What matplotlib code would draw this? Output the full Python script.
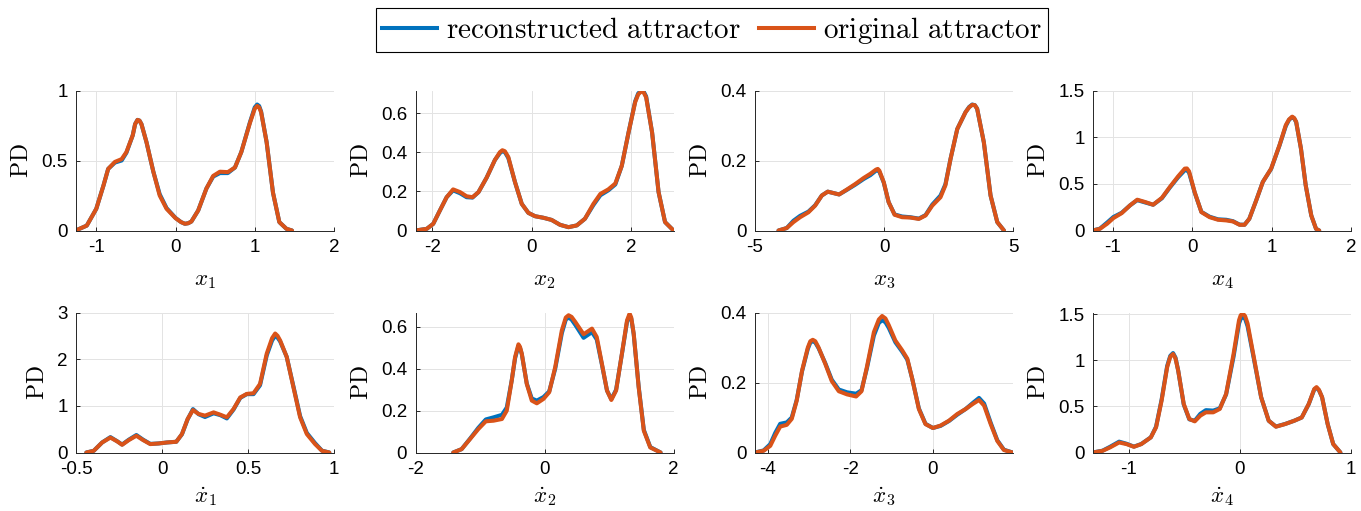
import matplotlib
matplotlib.use('Agg')
import matplotlib.pyplot as plt
from matplotlib.ticker import FuncFormatter
from matplotlib.lines import Line2D

plt.rcParams['font.family'] = ['Liberation Sans', 'DejaVu Sans']
plt.rcParams['mathtext.fontset'] = 'cm'
plt.rcParams['axes.unicode_minus'] = False

BLUE = '#0072BD'
ORANGE = '#D95319'

# --- probability densities of each state variable ---
x1_grid = [-1.26, -1.12, -1.0, -0.91, -0.85, -0.765, -0.68, -0.62, -0.54, -0.51, -0.48, -0.455, -0.43, -0.366,
           -0.28, -0.2, -0.113, 0.0, 0.07, 0.118, 0.16, 0.2, 0.286, 0.39, 0.475, 0.56, 0.66, 0.75, 0.83, 0.94,
           1.0, 1.03, 1.055, 1.08, 1.15, 1.23, 1.31, 1.40, 1.47]
x1_orig = [0.0, 0.035, 0.155, 0.32, 0.44, 0.49, 0.51, 0.56, 0.68, 0.76, 0.79, 0.785, 0.76, 0.63, 0.42, 0.25,
           0.155, 0.088, 0.06, 0.048, 0.052, 0.064, 0.143, 0.30, 0.39, 0.42, 0.417, 0.45, 0.56, 0.77, 0.87, 0.89,
           0.88, 0.845, 0.63, 0.27, 0.06, 0.012, 0.0]
x1_recon = [0.0, 0.035, 0.155, 0.32, 0.44, 0.485, 0.50, 0.555, 0.68, 0.76, 0.79, 0.785, 0.76, 0.63, 0.42, 0.26,
            0.16, 0.09, 0.06, 0.048, 0.052, 0.064, 0.143, 0.30, 0.385, 0.41, 0.41, 0.45, 0.56, 0.775, 0.88, 0.90,
            0.89, 0.85, 0.63, 0.27, 0.06, 0.012, 0.0]

x2_grid = [-2.336, -2.11, -1.98, -1.85, -1.71, -1.58, -1.44, -1.31, -1.19, -1.07, -0.906, -0.74, -0.64, -0.59,
           -0.54, -0.47, -0.336, -0.20, -0.067, 0.067, 0.235, 0.40, 0.57, 0.74, 0.906, 1.07, 1.24, 1.38, 1.54,
           1.68, 1.81, 1.946, 2.08, 2.14, 2.2, 2.25, 2.30, 2.42, 2.55, 2.68, 2.85]
x2_orig = [0.0, 0.0085, 0.034, 0.10, 0.17, 0.21, 0.196, 0.175, 0.17, 0.196, 0.27, 0.36, 0.40, 0.41, 0.405, 0.375,
           0.247, 0.136, 0.09, 0.073, 0.065, 0.054, 0.029, 0.017, 0.026, 0.06, 0.136, 0.187, 0.21, 0.24, 0.33,
           0.50, 0.656, 0.695, 0.71, 0.705, 0.68, 0.50, 0.196, 0.043, 0.0]
x2_recon = [0.0, 0.0085, 0.034, 0.10, 0.17, 0.205, 0.19, 0.17, 0.168, 0.196, 0.27, 0.36, 0.395, 0.405, 0.40,
            0.37, 0.247, 0.136, 0.09, 0.073, 0.065, 0.054, 0.029, 0.017, 0.026, 0.06, 0.13, 0.18, 0.205, 0.235,
            0.33, 0.50, 0.66, 0.70, 0.715, 0.71, 0.685, 0.50, 0.196, 0.043, 0.0]

x3_grid = [-4.09, -3.77, -3.51, -3.25, -2.93, -2.67, -2.41, -2.18, -1.96, -1.74, -1.44, -1.11, -0.79, -0.53,
           -0.31, -0.24, -0.18, -0.01, 0.18, 0.41, 0.70, 1.02, 1.35, 1.61, 1.87, 2.19, 2.38, 2.58, 2.84, 3.16,
           3.3, 3.42, 3.52, 3.61, 3.87, 4.13, 4.39, 4.65]
x3_orig = [0.0, 0.007, 0.024, 0.038, 0.052, 0.071, 0.10, 0.111, 0.107, 0.103, 0.117, 0.133, 0.15, 0.162, 0.174,
           0.176, 0.171, 0.138, 0.081, 0.045, 0.038, 0.037, 0.033, 0.043, 0.071, 0.095, 0.129, 0.205, 0.29,
           0.338, 0.352, 0.359, 0.358, 0.348, 0.252, 0.10, 0.024, 0.0]
x3_recon = [0.0, 0.007, 0.028, 0.042, 0.054, 0.072, 0.10, 0.111, 0.107, 0.103, 0.116, 0.131, 0.147, 0.158,
            0.171, 0.173, 0.168, 0.137, 0.081, 0.046, 0.040, 0.038, 0.034, 0.044, 0.074, 0.10, 0.132, 0.205,
            0.29, 0.338, 0.353, 0.36, 0.358, 0.348, 0.252, 0.10, 0.024, 0.0]

x4_grid = [-1.25, -1.16, -1.07, -0.99, -0.886, -0.78, -0.69, -0.59, -0.49, -0.38, -0.28, -0.176, -0.092,
           -0.065, -0.038, 0.033, 0.117, 0.22, 0.326, 0.43, 0.514, 0.598, 0.66, 0.72, 0.806, 0.89, 0.995, 1.10,
           1.18, 1.22, 1.26, 1.285, 1.31, 1.37, 1.43, 1.50, 1.56, 1.60]
x4_orig = [0.0, 0.018, 0.072, 0.133, 0.186, 0.27, 0.33, 0.305, 0.276, 0.35, 0.466, 0.58, 0.663, 0.665, 0.634,
           0.41, 0.197, 0.143, 0.115, 0.108, 0.097, 0.061, 0.061, 0.125, 0.32, 0.52, 0.663, 0.914, 1.13, 1.19,
           1.22, 1.205, 1.165, 0.878, 0.484, 0.161, 0.018, 0.0]
x4_recon = [0.0, 0.02, 0.085, 0.145, 0.19, 0.27, 0.325, 0.30, 0.276, 0.345, 0.46, 0.57, 0.645, 0.648, 0.62,
            0.405, 0.20, 0.148, 0.12, 0.115, 0.10, 0.063, 0.062, 0.125, 0.32, 0.52, 0.66, 0.91, 1.12, 1.185,
            1.215, 1.20, 1.16, 0.878, 0.484, 0.161, 0.018, 0.0]

# --- probability densities of the derivatives ---
dx1_grid = [-0.44, -0.397, -0.348, -0.30, -0.26, -0.232, -0.193, -0.149, -0.11, -0.068, -0.019, 0.029, 0.083,
            0.116, 0.149, 0.18, 0.213, 0.25, 0.30, 0.339, 0.377, 0.416, 0.455, 0.493, 0.532, 0.57, 0.609, 0.64,
            0.658, 0.672, 0.687, 0.725, 0.764, 0.803, 0.842, 0.89, 0.93, 0.973]
dx1_orig = [0.0, 0.036, 0.215, 0.32, 0.237, 0.165, 0.266, 0.359, 0.266, 0.18, 0.194, 0.215, 0.23, 0.395, 0.718,
            0.91, 0.826, 0.79, 0.86, 0.81, 0.754, 0.933, 1.18, 1.256, 1.27, 1.47, 2.12, 2.45, 2.55, 2.50, 2.40,
            2.05, 1.40, 0.754, 0.395, 0.18, 0.036, 0.0]
dx1_recon = [0.0, 0.036, 0.215, 0.33, 0.24, 0.17, 0.275, 0.375, 0.275, 0.185, 0.194, 0.215, 0.23, 0.39, 0.71,
             0.93, 0.82, 0.76, 0.84, 0.80, 0.73, 0.92, 1.17, 1.25, 1.25, 1.44, 2.08, 2.40, 2.50, 2.46, 2.38,
             2.05, 1.42, 0.78, 0.42, 0.20, 0.04, 0.0]

dx2_grid = [-1.415, -1.285, -1.155, -1.026, -0.91, -0.79, -0.66, -0.585, -0.508, -0.456, -0.404, -0.38, -0.352,
            -0.275, -0.197, -0.119, -0.016, 0.073, 0.166, 0.269, 0.33, 0.373, 0.42, 0.477, 0.606, 0.736, 0.81,
            0.89, 0.969, 1.036, 1.11, 1.20, 1.28, 1.32, 1.345, 1.383, 1.46, 1.54, 1.64, 1.80]
dx2_orig = [0.0, 0.016, 0.064, 0.112, 0.149, 0.152, 0.16, 0.20, 0.344, 0.456, 0.517, 0.505, 0.472, 0.328, 0.248,
            0.235, 0.256, 0.288, 0.408, 0.584, 0.645, 0.656, 0.648, 0.624, 0.565, 0.592, 0.552, 0.424, 0.296,
            0.251, 0.296, 0.472, 0.632, 0.664, 0.645, 0.568, 0.312, 0.104, 0.024, 0.0]
dx2_recon = [0.0, 0.016, 0.066, 0.118, 0.158, 0.168, 0.18, 0.215, 0.345, 0.45, 0.51, 0.50, 0.47, 0.33, 0.258,
             0.248, 0.265, 0.292, 0.40, 0.57, 0.635, 0.645, 0.635, 0.61, 0.548, 0.575, 0.54, 0.42, 0.296, 0.255,
             0.30, 0.47, 0.625, 0.655, 0.64, 0.565, 0.315, 0.108, 0.026, 0.0]

dx3_grid = [-4.31, -4.10, -3.94, -3.82, -3.70, -3.54, -3.42, -3.30, -3.17, -3.03, -2.97, -2.91, -2.85, -2.77,
            -2.61, -2.45, -2.28, -2.08, -1.86, -1.73, -1.60, -1.43, -1.31, -1.23, -1.15, -1.07, -0.91, -0.745,
            -0.62, -0.50, -0.34, -0.18, 0.0, 0.186, 0.39, 0.59, 0.79, 0.97, 1.117, 1.24, 1.40, 1.56, 1.72, 1.93]
dx3_orig = [0.0, 0.005, 0.019, 0.048, 0.074, 0.079, 0.096, 0.148, 0.234, 0.30, 0.318, 0.322, 0.318, 0.30, 0.254,
            0.204, 0.175, 0.166, 0.16, 0.175, 0.244, 0.344, 0.38, 0.39, 0.383, 0.364, 0.32, 0.292, 0.268, 0.21,
            0.124, 0.081, 0.07, 0.077, 0.091, 0.11, 0.124, 0.139, 0.15, 0.134, 0.081, 0.033, 0.007, 0.0]
dx3_recon = [0.0, 0.006, 0.024, 0.056, 0.082, 0.086, 0.10, 0.15, 0.232, 0.296, 0.314, 0.318, 0.314, 0.298,
             0.256, 0.208, 0.18, 0.172, 0.168, 0.178, 0.24, 0.334, 0.37, 0.378, 0.372, 0.356, 0.315, 0.288, 0.265,
             0.21, 0.126, 0.082, 0.07, 0.076, 0.09, 0.108, 0.124, 0.142, 0.156, 0.14, 0.085, 0.035, 0.008, 0.0]

dx4_grid = [-1.323, -1.234, -1.167, -1.085, -1.018, -0.952, -0.886, -0.80, -0.753, -0.703, -0.653, -0.625, -0.60,
            -0.578, -0.554, -0.504, -0.454, -0.405, -0.355, -0.305, -0.239, -0.18, -0.123, -0.056, -0.007, 0.008,
            0.027, 0.048, 0.07, 0.126, 0.192, 0.26, 0.325, 0.408, 0.49, 0.557, 0.62, 0.67, 0.69, 0.712, 0.74,
            0.79, 0.84, 0.905]
dx4_orig = [0.0, 0.018, 0.055, 0.109, 0.091, 0.062, 0.091, 0.164, 0.273, 0.564, 0.927, 1.04, 1.07, 1.02, 0.89,
            0.527, 0.364, 0.338, 0.40, 0.436, 0.436, 0.473, 0.636, 1.07, 1.436, 1.49, 1.51, 1.48, 1.40, 1.036,
            0.60, 0.345, 0.28, 0.309, 0.345, 0.38, 0.527, 0.69, 0.71, 0.68, 0.60, 0.309, 0.091, 0.0]
dx4_recon = [0.0, 0.02, 0.062, 0.118, 0.095, 0.064, 0.092, 0.165, 0.28, 0.575, 0.94, 1.05, 1.08, 1.03, 0.89,
             0.52, 0.36, 0.345, 0.42, 0.46, 0.455, 0.48, 0.63, 1.04, 1.40, 1.45, 1.47, 1.45, 1.37, 1.02, 0.60,
             0.345, 0.282, 0.31, 0.345, 0.38, 0.525, 0.685, 0.70, 0.675, 0.60, 0.31, 0.092, 0.0]

xlabels = [r'$x_1$', r'$x_2$', r'$x_3$', r'$x_4$',
           r'$\dot{x}_1$', r'$\dot{x}_2$', r'$\dot{x}_3$', r'$\dot{x}_4$']

panels = [
    (x1_grid, x1_recon, x1_orig, (-1.256, 2), [-1, 0, 1, 2], (0, 1), [0, 0.5, 1]),
    (x2_grid, x2_recon, x2_orig, (-2.336, 2.85), [-2, 0, 2], (0, 0.715), [0, 0.2, 0.4, 0.6]),
    (x3_grid, x3_recon, x3_orig, (-5, 5), [-5, 0, 5], (0, 0.4), [0, 0.2, 0.4]),
    (x4_grid, x4_recon, x4_orig, (-1.247, 2), [-1, 0, 1, 2], (0, 1.5), [0, 0.5, 1, 1.5]),
    (dx1_grid, dx1_recon, dx1_orig, (-0.5, 1), [-0.5, 0, 0.5, 1], (0, 3), [0, 1, 2, 3]),
    (dx2_grid, dx2_recon, dx2_orig, (-2, 2), [-2, 0, 2], (0, 0.669), [0, 0.2, 0.4, 0.6]),
    (dx3_grid, dx3_recon, dx3_orig, (-4.31, 1.94), [-4, -2, 0], (0, 0.4), [0, 0.2, 0.4]),
    (dx4_grid, dx4_recon, dx4_orig, (-1.32, 1), [-1, 0, 1], (0, 1.52), [0, 0.5, 1, 1.5]),
]

W, H = 1361, 511
fig = plt.figure(figsize=(W / 100, H / 100), dpi=100)

lefts = [76, 415.5, 755, 1093]
bottoms = [230.5, 452.5]
aw, ah = 258, 140

fmt = FuncFormatter(lambda v, p: '%g' % v)

for k, (xg, rec, org, xl, xt, yl, yt) in enumerate(panels):
    row, col = divmod(k, 4)
    ax = fig.add_axes([lefts[col] / W, 1 - bottoms[row] / H, aw / W, ah / H])
    ax.plot(xg, rec, color=BLUE, lw=2.9, solid_joinstyle='round', solid_capstyle='round')
    ax.plot(xg, org, color=ORANGE, lw=2.9, solid_joinstyle='round', solid_capstyle='round')
    ax.set_xlim(*xl)
    ax.set_ylim(*yl)
    ax.set_xticks(xt)
    ax.set_yticks(yt)
    ax.xaxis.set_major_formatter(fmt)
    ax.yaxis.set_major_formatter(fmt)
    ax.grid(True, color='#e3e3e3', lw=0.7)
    ax.set_axisbelow(True)
    for s in ('top', 'right'):
        ax.spines[s].set_visible(False)
    for s in ('left', 'bottom'):
        ax.spines[s].set_color('#262626')
        ax.spines[s].set_linewidth(0.7)
    ax.tick_params(direction='in', length=3, width=0.7, color='#262626',
                   labelsize=13.5, labelcolor='black', pad=6)
    # dotted labels carry extra height above the glyph, so they sit a little closer
    ax.set_xlabel(xlabels[k], fontsize=16.5, labelpad=9 if row == 0 else 5)
    ax.set_ylabel(r'$\mathrm{PD}$', fontsize=17, labelpad=6)

handles = [Line2D([], [], color=BLUE, lw=2.9), Line2D([], [], color=ORANGE, lw=2.9)]
labels = [r'$\mathrm{reconstructed\ attractor}$', r'$\mathrm{original\ attractor}$']
leg = fig.legend(handles, labels, loc='upper center', bbox_to_anchor=(0.523, 1.012), ncol=2,
                 fontsize=21, frameon=True, fancybox=False, edgecolor='black', framealpha=1,
                 handlelength=1.9, handletextpad=0.3, columnspacing=0.6, borderpad=0.22)
leg.get_frame().set_linewidth(0.8)

fig.savefig('out.png', dpi=100)
